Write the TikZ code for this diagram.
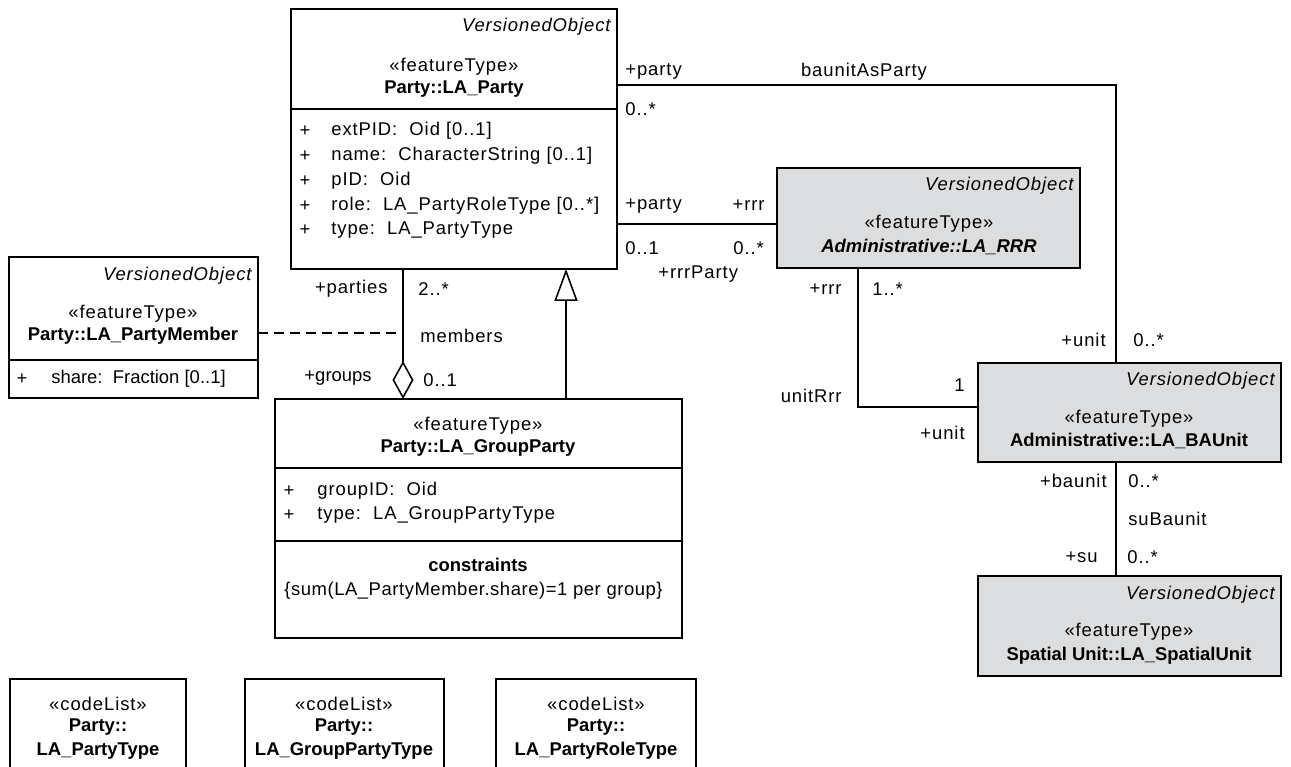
\documentclass[tikz,border=0pt]{standalone}
\usepackage{fontspec}
\setmainfont{Liberation Sans}
\newfontfamily\spfont[LetterSpace=5]{Liberation Sans}
\newfontfamily\spnfont[LetterSpace=3]{Liberation Sans}
\usetikzlibrary{arrows.meta}
\definecolor{boxgray}{RGB}{220,221,223}

\begin{document}
\begin{tikzpicture}[x=0.02cm,y=-0.02cm]%
  \tikzstyle{clsn}=[rectangle,draw,line width=0.9pt,outer sep=0,inner sep=0,anchor=north west]
  \tikzstyle{grayn}=[clsn,fill=boxgray]
  \tikzstyle{txt}=[inner sep=0,font=\fontsize{10.5}{12}\spfont]
  \tikzstyle{vobj}=[txt,anchor=east,font=\fontsize{10.5}{12}\spfont\itshape]
  \tikzstyle{cname}=[txt,font=\fontsize{10.5}{12}\selectfont\bfseries]
  \tikzstyle{attr}=[txt,anchor=west]
  \tikzstyle{labw}=[txt,anchor=west]
  \tikzstyle{labe}=[txt,anchor=east]
  \tikzstyle{assoc}=[line width=0.9pt]
  \useasboundingbox (0,0) rectangle (1291,767);
  \clip (0,0) rectangle (1291,767);
  % classes
  \node(party)[clsn,minimum width=6.52cm,minimum height=5.2cm] at (291,9) {};
  \node(member)[clsn,minimum width=4.98cm,minimum height=2.82cm] at (9,257) {};
  \node(group)[clsn,minimum width=8.14cm,minimum height=4.78cm] at (275,399) {};
  \node(rrr)[grayn,minimum width=6.06cm,minimum height=2cm] at (777,168) {};
  \node(baunit)[grayn,minimum width=6.06cm,minimum height=1.98cm] at (978,363) {};
  \node(spatial)[grayn,minimum width=6.06cm,minimum height=2cm] at (978,576) {};
  \node(ptype)[clsn,minimum width=3.52cm,minimum height=2.4cm] at (10,679) {};
  \node(gptype)[clsn,minimum width=3.98cm,minimum height=2.4cm] at (245,679) {};
  \node(prtype)[clsn,minimum width=4cm,minimum height=2.4cm] at (496,679) {};
  \draw[assoc] (party.west |- 0,109) -- (party.east |- 0,109);
  \draw[assoc] (member.west |- 0,360) -- (member.east |- 0,360);
  \draw[assoc] (group.west |- 0,468) -- (group.east |- 0,468);
  \draw[assoc] (group.west |- 0,541) -- (group.east |- 0,541);
  % LA_Party
  \node(partyv)[vobj] at (611,27) {VersionedObject};
  \node(partys)[txt] at (454,67) {«featureType»};
  \node(partyn)[cname] at (454,89) {Party::LA\_Party};
  \node(pa1p)[txt] at (305,131) {+}; \node(pa1)[attr] at (331,131) {extPID:\ \ Oid [0..1]};
  \node(pa2p)[txt] at (305,156) {+}; \node(pa2)[attr] at (331,156) {name:\ \ CharacterString [0..1]};
  \node(pa3p)[txt] at (305,181) {+}; \node(pa3)[attr] at (331,181) {pID:\ \ Oid};
  \node(pa4p)[txt] at (305,206) {+}; \node(pa4)[attr] at (331,206) {role:\ \ LA\_PartyRoleType [0..*]};
  \node(pa5p)[txt] at (305,230) {+}; \node(pa5)[attr] at (331,230) {type:\ \ LA\_PartyType};
  % LA_PartyMember
  \node(memberv)[vobj] at (252,276) {VersionedObject};
  \node(members)[txt] at (133,314) {«featureType»};
  \node(membern)[cname] at (133,336) {Party::LA\_PartyMember};
  \node(ma1p)[txt] at (22,379) {+}; \node(ma1)[attr,font=\fontsize{10.5}{12}\selectfont] at (51,379) {share:\ \ Fraction [0..1]};
  % LA_GroupParty
  \node(groups)[txt] at (478,426) {«featureType»};
  \node(groupn)[cname] at (478,448) {Party::LA\_GroupParty};
  \node(ga1p)[txt] at (289,491) {+}; \node(ga1)[attr] at (317,491) {groupID:\ \ Oid};
  \node(ga2p)[txt] at (289,515) {+}; \node(ga2)[attr] at (317,515) {type:\ \ LA\_GroupPartyType};
  \node(groupc)[cname] at (478,565) {constraints};
  \node(groupk)[attr,font=\fontsize{10.5}{12}\spnfont] at (284,591) {\{sum(LA\_PartyMember.share)=1 per group\}};
  % LA_RRR
  \node(rrrv)[vobj] at (1074,186) {VersionedObject};
  \node(rrrs)[txt] at (929,224) {«featureType»};
  \node(rrrn)[cname,font=\fontsize{10.5}{12}\selectfont\bfseries\itshape] at (929,247) {Administrative::LA\_RRR};
  % LA_BAUnit
  \node(baunitv)[vobj] at (1275,381) {VersionedObject};
  \node(baunits)[txt] at (1129,419) {«featureType»};
  \node(baunitn)[cname] at (1129,441) {Administrative::LA\_BAUnit};
  % LA_SpatialUnit
  \node(spatialv)[vobj] at (1275,595) {VersionedObject};
  \node(spatials)[txt] at (1129,632) {«featureType»};
  \node(spatialn)[cname] at (1129,656) {Spatial Unit::LA\_SpatialUnit};
  % code lists
  \node(ptypes)[txt] at (98,704) {«codeList»};
  \node(ptypep)[cname] at (98,727) {Party::};
  \node(ptypen)[cname] at (98,751) {LA\_PartyType};
  \node(gptypes)[txt] at (344,704) {«codeList»};
  \node(gptypep)[cname] at (344,727) {Party::};
  \node(gptypen)[cname] at (344,751) {LA\_GroupPartyType};
  \node(prtypes)[txt] at (596,704) {«codeList»};
  \node(prtypep)[cname] at (596,727) {Party::};
  \node(prtypen)[cname] at (596,751) {LA\_PartyRoleType};
  % associations
  \draw[assoc] (party.east |- 0,85) -| (baunit.north -| 1116,0);
  \node(bap1)[labw] at (625,71) {+party};
  \node(bap2)[labw] at (625,109) {0..*};
  \node(bapn)[txt] at (864,72) {baunitAsParty};
  \node(bap3)[labe] at (1106,340) {+unit};
  \node(bap4)[labw] at (1133,340) {0..*};
  \draw[assoc] (party.east |- 0,224) -- (rrr.west |- 0,224);
  \node(rp1)[labw] at (625,205) {+party};
  \node(rp2)[labe] at (765,205) {+rrr};
  \node(rp3)[labw] at (625,248) {0..1};
  \node(rp4)[labw] at (733,248) {0..*};
  \node(rpn)[labw] at (658,274) {+rrrParty};
  \draw[assoc] (rrr.south -| 858,0) |- (baunit.west |- 0,407);
  \node(ur1)[labe] at (842,289) {+rrr};
  \node(ur2)[labw] at (872,289) {1..*};
  \node(urn)[labe] at (842,396) {unitRrr};
  \node(ur3)[labe] at (965,385) {1};
  \node(ur4)[labe] at (965,433) {+unit};
  \draw[assoc] (baunit.south -| 1116,0) -- (spatial.north -| 1116,0);
  \node(sb1)[labe] at (1107,481) {+baunit};
  \node(sb2)[labw] at (1128,481) {0..*};
  \node(sbn)[labw] at (1128,519) {suBaunit};
  \node(sb3)[labe] at (1098,557) {+su};
  \node(sb4)[labw] at (1127,557) {0..*};
  \draw[assoc,{Diamond[open,length=0.76cm,width=0.42cm]}-] (group.north -| 403,0) -- (party.south -| 403,0);
  \node(gm1)[labe] at (388,289) {+parties};
  \node(gm2)[labw] at (418,289) {2..*};
  \node(gmn)[labw] at (420,336) {members};
  \node(gm3)[labe,font=\fontsize{10.5}{12}\selectfont] at (372,378) {+groups};
  \node(gm4)[labw] at (423,380) {0..1};
  \coordinate(mj) at (403,333);
  \draw[assoc,dash pattern=on 0.2cm off 0.12cm] (member.east |- mj) -- (mj);
  \draw[assoc,-{Triangle[open,length=0.64cm,width=0.46cm]}] (group.north -| 566,0) -- (party.south -| 566,0);
\end{tikzpicture}
\end{document}
